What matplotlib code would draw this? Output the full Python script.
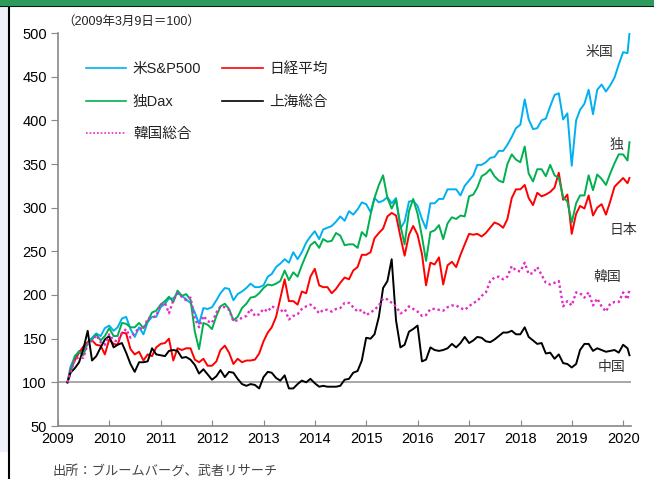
import numpy as np
import pandas as pd
import matplotlib
matplotlib.use("Agg")
import matplotlib.pyplot as plt
from matplotlib.patches import Rectangle
from matplotlib.lines import Line2D

plt.rcParams['font.family'] = ['Liberation Sans', 'Noto Sans CJK JP', 'DejaVu Sans']

# dates: 2009-03-09 base, month ends Mar 2009 - Jan 2020, mid Feb 2020
month_ends = pd.period_range('2009-03', '2020-01', freq='M').to_timestamp(how='end')
dates = pd.DatetimeIndex([pd.Timestamp('2009-03-09')]).append(pd.DatetimeIndex(month_ends.normalize()))
dates = dates.append(pd.DatetimeIndex([pd.Timestamp('2020-02-14')]))
x = dates.year + (dates.dayofyear - 1) / 365.25

# index values, 2009-03-09 = 100
sp500 = [100,
         118, 129, 136, 136, 146, 151, 156, 153, 162, 165,
         159, 163, 173, 175, 161, 152, 163, 155, 169, 175, 175, 186,
         190, 196, 196, 202, 199, 195, 191, 180, 167, 185, 184, 186,
         194, 202, 208, 207, 194, 201, 204, 208, 213, 209, 209, 211,
         221, 224, 232, 236, 241, 237, 249, 241, 249, 260, 267, 273,
         264, 275, 277, 279, 284, 290, 285, 296, 292, 298, 306, 304,
         295, 311, 306, 308, 312, 305, 311, 276, 284, 307, 308, 302,
         287, 276, 305, 305, 310, 310, 321, 321, 321, 314, 325, 331,
         337, 349, 349, 352, 357, 358, 365, 365, 372, 381, 391, 395,
         424, 401, 390, 391, 400, 402, 416, 429, 431, 401, 408, 348,
         400, 412, 419, 435, 407, 435, 441, 433, 440, 449, 464, 478,
         477, 500]

nikkei = [100,
          114, 125, 134, 141, 146, 148, 143, 142, 132, 149,
          144, 143, 157, 156, 138, 132, 135, 125, 132, 130, 140, 144,
          145, 150, 125, 139, 137, 139, 139, 126, 123, 127, 119, 119,
          124, 137, 142, 134, 121, 127, 123, 125, 125, 126, 133, 147,
          157, 163, 175, 196, 218, 193, 193, 189, 204, 202, 221, 230,
          211, 209, 209, 202, 207, 214, 220, 218, 228, 232, 246, 246,
          249, 265, 271, 276, 290, 294, 291, 267, 245, 269, 279, 269,
          247, 211, 237, 235, 243, 212, 234, 238, 232, 246, 258, 270,
          269, 270, 267, 271, 277, 283, 281, 277, 287, 311, 321, 321,
          326, 311, 303, 317, 313, 315, 318, 323, 340, 309, 315, 270,
          293, 302, 299, 314, 291, 300, 304, 292, 307, 324, 329, 334,
          328, 334]

dax = [100,
       111, 130, 135, 131, 145, 149, 155, 148, 153, 162,
       153, 153, 168, 167, 163, 163, 168, 162, 170, 180, 182, 189,
       193, 198, 192, 205, 199, 201, 195, 158, 138, 168, 166, 161,
       176, 187, 190, 184, 171, 175, 185, 190, 197, 198, 202, 208,
       212, 211, 213, 216, 228, 217, 226, 221, 234, 246, 257, 261,
       254, 264, 261, 262, 271, 268, 257, 258, 258, 254, 272, 267,
       292, 311, 326, 337, 311, 299, 309, 280, 258, 296, 310, 293,
       267, 239, 272, 274, 280, 264, 282, 289, 287, 291, 290, 313,
       315, 323, 336, 339, 344, 336, 331, 329, 350, 361, 355, 352,
       370, 339, 330, 344, 344, 336, 349, 337, 334, 312, 307, 283,
       305, 314, 314, 337, 320, 338, 333, 326, 339, 351, 361, 361,
       354, 375]

shanghai = [100,
            111, 116, 123, 138, 159, 125, 130, 140, 149, 153,
            140, 143, 145, 134, 121, 112, 123, 123, 124, 139, 132, 131,
            130, 136, 137, 136, 128, 129, 126, 120, 110, 115, 109, 103,
            107, 114, 106, 112, 111, 104, 98, 96, 98, 97, 93, 106,
            112, 111, 105, 102, 108, 93, 93, 98, 102, 100, 104, 99,
            95, 96, 95, 95, 95, 96, 103, 104, 111, 113, 125, 151,
            150, 155, 175, 208, 216, 241, 171, 140, 143, 158, 161, 165,
            124, 126, 140, 137, 136, 137, 139, 144, 140, 145, 152, 145,
            148, 152, 151, 147, 146, 149, 153, 157, 157, 159, 155, 155,
            163, 152, 148, 144, 145, 133, 134, 127, 132, 122, 121, 117,
            121, 137, 144, 144, 136, 139, 137, 135, 136, 137, 134, 143,
            139, 131]

kospi = [100,
         111, 126, 129, 128, 144, 147, 154, 146, 143, 155,
         148, 147, 156, 161, 151, 157, 162, 161, 173, 174, 176, 189,
         191, 179, 194, 202, 198, 194, 197, 173, 163, 176, 170, 168,
         180, 187, 186, 183, 170, 171, 174, 176, 184, 176, 178, 184,
         181, 187, 185, 181, 184, 172, 176, 178, 184, 187, 189, 185,
         179, 183, 183, 181, 184, 185, 191, 191, 186, 181, 183, 177,
         180, 183, 188, 196, 195, 191, 187, 179, 181, 187, 184, 181,
         176, 177, 184, 184, 183, 182, 186, 188, 188, 185, 183, 187,
         191, 193, 199, 203, 216, 220, 221, 218, 221, 233, 228, 227,
         237, 224, 225, 232, 223, 214, 212, 214, 216, 187, 193, 188,
         203, 202, 197, 203, 188, 196, 187, 181, 190, 192, 192, 203,
         195, 207]

labels = ['米S&P500', '日経平均', '独Dax', '上海総合', '韓国総合']
colors = ['#00B0F0', '#FF0000', '#00B050', '#000000', '#E22BC8']
end_labels = ['米国', '日本', '独', '中国', '韓国']
end_pos = [(2019.53, 478), (2020.0, 274), (2019.86, 372), (2019.77, 118), (2019.69, 221)]

fig = plt.figure(figsize=(6.54, 4.79), dpi=100)
ax = fig.add_axes([58 / 654, 53 / 479, 573 / 654, 393 / 479])

series = [sp500, nikkei, dax, shanghai, kospi]
handles = []
for vals, lab, col in zip(series, labels, colors):
    if lab == '韓国総合':
        h, = ax.plot(x, vals, color=col, lw=1.7, ls=(0, (1, 1.2)), label=lab)
    else:
        h, = ax.plot(x, vals, color=col, lw=1.4, label=lab)
    handles.append(h)

ax.axhline(100, color='#9a9a9a', lw=1.2, zorder=0)

ax.set_xlim(2009, 2020.15)
ax.set_ylim(50, 500)
ax.set_xticks(range(2009, 2021))
ax.set_yticks(range(50, 501, 50))
for s in ['top', 'right']:
    ax.spines[s].set_visible(False)
for s in ['left', 'bottom']:
    ax.spines[s].set_color('#888888')
    ax.spines[s].set_linewidth(1.2)
ax.tick_params(axis='y', direction='out', length=5, color='#888888', labelsize=10.5, pad=3)
ax.tick_params(axis='x', direction='in', length=4, color='#888888', labelsize=10.5, pad=4)

# legend: column-wise order
order = [0, 2, 4, 1, 3]
leg = ax.legend([handles[i] for i in order], [labels[i] for i in order],
                ncol=2, loc='upper left', bbox_to_anchor=(0.048, 0.925),
                frameon=False, fontsize=10.5, handlelength=2.8, handletextpad=0.45,
                columnspacing=1.4, labelspacing=1.25, borderpad=0, borderaxespad=0)
for t in leg.get_texts():
    t.set_color('#222222')
for h in leg.legend_handles:
    h.set_linewidth(1.2)

for txt, (tx, ty) in zip(end_labels, end_pos):
    ax.text(tx, ty, txt, fontsize=10, color='#333333', ha='center', va='center')

fig.text(62 / 654, 1 - 22 / 479, '（2009年3月9日＝100）', fontsize=9, color='#222222',
         ha='left', va='center')
fig.text(53 / 654, 1 - 471 / 479, '出所：ブルームバーグ、武者リサーチ', fontsize=9.5,
         color='#444444', ha='left', va='center')

# page decorations: header band and left margin
fig.patches.append(Rectangle((0, 1 - 5 / 479), 1, 5 / 479, transform=fig.transFigure,
                             color='#2E9A5C', zorder=5))
fig.lines.append(Line2D([0, 1], [1 - 5.8 / 479, 1 - 5.8 / 479], transform=fig.transFigure,
                        color='black', lw=1.5))
fig.patches.append(Rectangle((0, 1 - 451 / 479), 8 / 654, 445 / 479, transform=fig.transFigure,
                             color='#EEF0FA', zorder=1))
fig.lines.append(Line2D([8.5 / 654, 8.5 / 654], [0, 1 - 5 / 479], transform=fig.transFigure,
                        color='black', lw=1.5))

fig.savefig('out.png', dpi=100)
